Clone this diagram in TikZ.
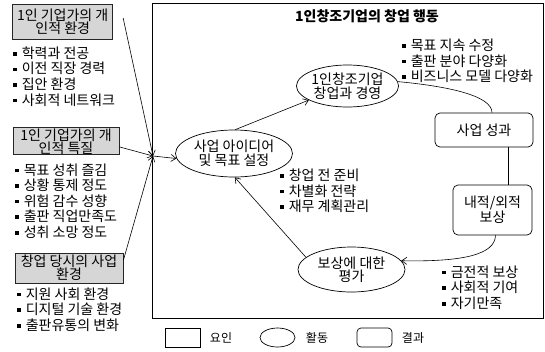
\documentclass[tikz,border=0pt]{standalone}
\usepackage{fontspec}
\setmainfont{Noto Sans CJK KR}
\usetikzlibrary{shapes.geometric,arrows.meta}
\newcommand{\bul}{\rule[2.8pt]{3.6pt}{3.6pt}\hspace{5pt}}
\begin{document}
\begin{tikzpicture}[x=1pt,y=-1pt,
  every node/.style={font=\fontsize{14}{15.6}\selectfont},
  factor/.style={draw=black!85, fill=black!16, line width=0.9pt, inner sep=0pt, align=center, font=\fontsize{14}{13}\selectfont},
  activity/.style={ellipse, draw, line width=0.7pt, inner sep=0pt, align=center, font=\fontsize{14}{13.5}\selectfont},
  result/.style={draw, rounded corners=5pt, line width=0.7pt, inner sep=0pt, align=center, font=\fontsize{14}{13.5}\selectfont},
  blist/.style={anchor=west, align=left, inner sep=0pt},
  arr/.style={-{Straight Barb[length=5pt,width=7pt]}, line width=0.6pt},
  conn/.style={line width=0.6pt},
  legtext/.style={font=\fontsize{12}{12}\selectfont},
  legbox/.style={draw, line width=0.7pt, minimum width=35pt, minimum height=19pt, inner sep=0pt}
]
\useasboundingbox (0,0) rectangle (545,351);

% main frame
\node[draw, line width=0.8pt, minimum width=391pt, minimum height=315pt, inner sep=0pt] (main) at (347.5,160.5) {};
\node[font=\fontsize{14}{14}\selectfont\bfseries] (title) at (367,16) {1인창조기업의 창업 행동};

% factors
\node[factor, minimum width=100pt, minimum height=35pt] (f1) at (62.7,21.5) {1인 기업가의 개\\인적 환경};
\node[factor, minimum width=106pt, minimum height=27pt] (f2) at (66,141.4) {1인 기업가의 개\\인적 특질};
\node[factor, minimum width=108pt, minimum height=30pt] (f3) at (69,268) {창업 당시의 사업\\환경};

% bullet lists
\node[blist] (l1) at (13,76.5) {\bul 학력과 전공\\\bul 이전 직장 경력\\\bul 집안 환경\\\bul 사회적 네트워크};
\node[blist] (l2) at (15,201) {\bul 목표 성취 즐김\\\bul 상황 통제 정도\\\bul 위험 감수 성향\\\bul 출판 직업만족도\\\bul 성취 소망 정도};
\node[blist] (l3) at (17,309.5) {\bul 지원 사회 환경\\\bul 디지털 기술 환경\\\bul 출판유통의 변화};
\node[blist] (l4) at (402,61) {\bul 목표 지속 수정\\\bul 출판 분야 다양화\\\bul 비즈니스 모델 다양화};
\node[blist] (l5) at (280,191) {\bul 창업 전 준비\\\bul 차별화 전략\\\bul 재무 계획관리};
\node[blist] (l6) at (442,287.5) {\bul 금전적 보상\\\bul 사회적 기여\\\bul 자기만족};

% activities
\node[activity, minimum width=117pt, minimum height=47pt] (e1) at (234,153.5) {사업 아이디어\\및 목표 설정};
\node[activity, minimum width=101pt, minimum height=42pt] (e2) at (347.5,86) {1인창조기업\\창업과 경영};
\node[activity, minimum width=107pt, minimum height=45pt] (e3) at (351.5,269.5) {보상에 대한\\평가};

% results
\node[result, minimum width=98pt, minimum height=34pt] (r1) at (484,130) {사업 성과};
\node[result, minimum width=79pt, minimum height=50pt] (r2) at (492.5,210) {내적/외적\\보상};

% connectors
\coordinate (J) at (153,156);
\draw[arr] ([shift={(10,-3.5)}]f1.east) -- (J);
\draw[arr] ([shift={(0,5.5)}]f2.east) -- (J);
\draw[arr] ([shift={(0,-8)}]f3.east) -- (J);
\draw[arr] (J) -- (e1.185);
\draw[arr] (e1.87) -- (e2.200);
\draw[conn] (e2.5) .. controls (445,86) and (492,95) .. ([xshift=8pt]r1.north);
\draw[conn] ([xshift=24pt]r1.south) -- ([xshift=15.5pt]r2.north);
\draw[arr] ([xshift=3pt]r2.south) .. controls (495,254) and (465,262) .. (e3.10);
\draw[arr] (e3.165) -- (e1.272);

% legend
\node[legbox] (k1) at (182.5,337.5) {};
\node[legtext] (k1t) at (221,337.5) {요인};
\node[legbox, ellipse] (k2) at (277.5,337.5) {};
\node[legtext] (k2t) at (317,337.5) {활동};
\node[legbox, rounded corners=4pt] (k3) at (374.5,337.5) {};
\node[legtext] (k3t) at (413,337.5) {결과};
\end{tikzpicture}
\end{document}
